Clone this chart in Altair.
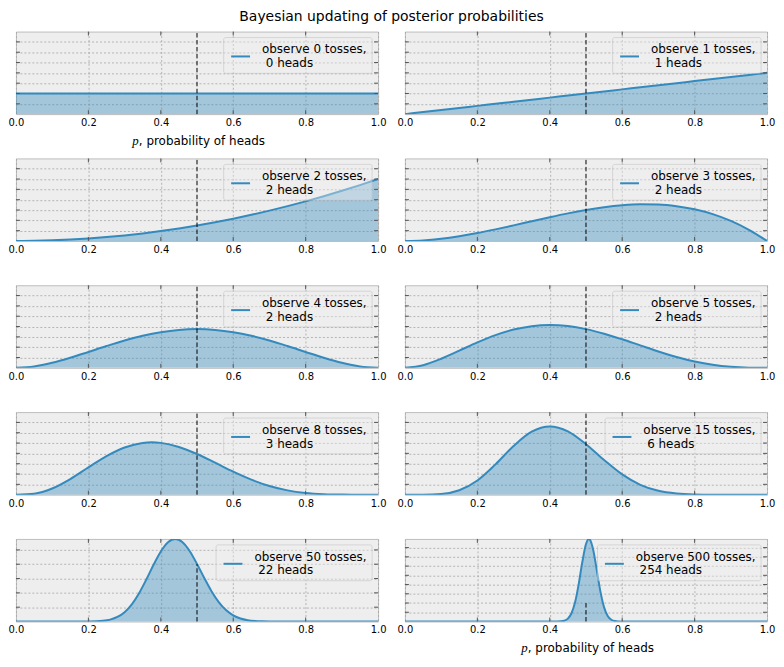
import altair as alt
import pandas as pd

TITLE = "Bayesian updating of posterior probabilities"
N_TOSSES = [0, 1, 2, 3, 4, 5, 8, 15, 50, 500]
N_HEADS = [0, 1, 2, 2, 2, 2, 3, 6, 22, 254]

# posterior density
X_GRID = [0.00, 0.05, 0.10, 0.15, 0.20, 0.25, 0.30, 0.35, 0.40, 0.45, 0.50,
          0.55, 0.60, 0.65, 0.70, 0.75, 0.80, 0.85, 0.90, 0.95, 1.00]
Y_N0 = [1.0, 1.0, 1.0, 1.0, 1.0, 1.0, 1.0, 1.0, 1.0, 1.0, 1.0,
        1.0, 1.0, 1.0, 1.0, 1.0, 1.0, 1.0, 1.0, 1.0, 1.0]
Y_N1 = [0.0, 0.1, 0.2, 0.3, 0.4, 0.5, 0.6, 0.7, 0.8, 0.9, 1.0,
        1.1, 1.2, 1.3, 1.4, 1.5, 1.6, 1.7, 1.8, 1.9, 2.0]
Y_N2 = [0.0, 0.0075, 0.03, 0.0675, 0.12, 0.1875, 0.27, 0.3675, 0.48, 0.6075, 0.75,
        0.9075, 1.08, 1.2675, 1.47, 1.6875, 1.92, 2.1675, 2.43, 2.7075, 3.0]
Y_N3 = [0.0, 0.0285, 0.108, 0.2295, 0.384, 0.5625, 0.756, 0.9555, 1.152, 1.3365, 1.5,
        1.6335, 1.728, 1.7745, 1.764, 1.6875, 1.536, 1.3005, 0.972, 0.5415, 0.0]
Y_N4 = [0.0, 0.0677, 0.243, 0.4877, 0.768, 1.0547, 1.323, 1.5527, 1.728, 1.8377, 1.875,
        1.8377, 1.728, 1.5527, 1.323, 1.0547, 0.768, 0.4877, 0.243, 0.0677, 0.0]
Y_N5 = [0.0, 0.1286, 0.4374, 0.8291, 1.2288, 1.582, 1.8522, 2.0185, 2.0736, 2.0215, 1.875,
        1.6539, 1.3824, 1.0869, 0.7938, 0.5273, 0.3072, 0.1463, 0.0486, 0.0068, 0.0]
X_N8 = [0.00, 0.05, 0.10, 0.15, 0.20, 0.25, 0.30, 0.35, 0.375, 0.40, 0.45, 0.50,
        0.55, 0.60, 0.65, 0.70, 0.75, 0.80, 0.85, 0.90, 0.95, 1.00]
Y_N8 = [0.0, 0.0487, 0.2976, 0.7547, 1.3212, 1.8688, 2.2871, 2.5073, 2.5347, 2.5082, 2.3114,
        1.9688, 1.5473, 1.1148, 0.727, 0.4201, 0.2076, 0.0826, 0.0235, 0.0037, 0.0001, 0.0]
Y_N15 = [0.0, 0.0008, 0.031, 0.2113, 0.6879, 1.468, 2.3558, 3.049, 3.3056, 3.066, 2.4438,
         1.6773, 0.9794, 0.476, 0.1854, 0.0544, 0.0107, 0.0012, 0.0, 0.0, 0.0]
X_N50 = [0.0, 0.10, 0.15, 0.20, 0.22, 0.24, 0.26, 0.28, 0.30, 0.32, 0.34, 0.36, 0.38,
         0.40, 0.42, 0.44, 0.46, 0.48, 0.50, 0.52, 0.54, 0.56, 0.58, 0.60, 0.62,
         0.64, 0.66, 0.68, 0.70, 0.75, 0.80, 0.90, 1.0]
Y_N50 = [0.0, 0.0, 0.0, 0.0037, 0.0147, 0.0482, 0.1329, 0.3151, 0.6533, 1.2002, 1.9746,
         2.9336, 3.9622, 4.8893, 5.5355, 5.767, 5.5384, 4.9103, 4.02, 3.0376, 2.1164,
         1.3568, 0.7982, 0.4292, 0.21, 0.0929, 0.0369, 0.013, 0.0041, 0.0001, 0.0, 0.0, 0.0]
X_N500 = [0.0, 0.40, 0.41, 0.42, 0.43, 0.44, 0.45, 0.46, 0.47, 0.48, 0.49, 0.50, 0.508,
          0.51, 0.52, 0.53, 0.54, 0.55, 0.56, 0.57, 0.58, 0.59, 0.60, 0.61, 0.62, 1.0]
Y_N500 = [0.0, 0.0002, 0.0012, 0.0077, 0.0407, 0.1752, 0.6183, 1.7833, 4.2153, 8.1588,
          12.927, 16.766, 17.874, 17.803, 15.476, 11.015, 6.418, 3.0613, 1.196, 0.3823,
          0.1001, 0.0214, 0.0038, 0.0005, 0.0001, 0.0]

CURVES = [(X_GRID, Y_N0), (X_GRID, Y_N1), (X_GRID, Y_N2), (X_GRID, Y_N3),
          (X_GRID, Y_N4), (X_GRID, Y_N5), (X_N8, Y_N8), (X_GRID, Y_N15),
          (X_N50, Y_N50), (X_N500, Y_N500)]

X_TICKS = [0.0, 0.2, 0.4, 0.6, 0.8, 1.0]
Y_TICKS_DEFAULT = [0.5, 1.0, 1.5, 2.0, 2.5, 3.0, 3.5]
Y_TICKS_N50 = [1, 2, 3, 4, 5]
Y_TICKS_N500 = [2, 4, 6, 8, 10, 12, 14, 16]
Y_TICKS = [Y_TICKS_DEFAULT] * 8 + [Y_TICKS_N50, Y_TICKS_N500]

REF_X = 0.5
REF_TOP = 4.0
XLABEL_MATH = "p"
XLABEL_REST = ", probability of heads"
XLABEL_PANELS = [0, 9]

BLUE = "#348ABD"
GRID = "#a6a6a6"
TICK = "#555555"
W, H = 364, 83


def legend_text_width(n):
    # DejaVu Sans 12px width of "observe N tosses,"
    return 105.3 + (len(str(n)) - 1) * 7.63


def panel(k):
    xs, ys = CURVES[k]
    df = pd.DataFrame({"x": xs, "y": ys})
    ymax = max(max(ys), REF_TOP)
    xsc = alt.Scale(domain=[0, 1], nice=False, zero=False)
    ysc = alt.Scale(domain=[0, ymax], nice=False, zero=True)

    xax = alt.Axis(values=X_TICKS, format=".1f", grid=True, ticks=False, domain=False,
                   labelFlush=False, labelOverlap=False, labelPadding=3.5,
                   labelFontSize=10, labelColor="black", labelFont="DejaVu Sans",
                   title=None, gridColor=GRID, gridDash=[2, 2], gridWidth=0.8)
    yax = alt.Axis(values=Y_TICKS[k], grid=True, labels=False, ticks=False, domain=False,
                   title=None, gridColor=GRID, gridDash=[2, 2], gridWidth=0.8)
    X = alt.X("x:Q", scale=xsc, axis=xax)
    Y = alt.Y("y:Q", scale=ysc, axis=yax)

    area = alt.Chart(df).mark_area(color=BLUE, opacity=0.4, interpolate="monotone",
                                   clip=True).encode(x=X, y=Y)
    line = alt.Chart(df).mark_line(color=BLUE, strokeWidth=2, interpolate="monotone",
                                   clip=True).encode(x=X, y=Y)
    ref = alt.Chart(pd.DataFrame({"x": [REF_X], "y": [0.0], "y2": [REF_TOP]})).mark_rule(
        color="black", strokeWidth=1, strokeDash=[4.5, 2.5]).encode(x=X, y=Y, y2="y2:Q")
    ydf = pd.DataFrame({"y": Y_TICKS[k]})
    ytl = alt.Chart(ydf).mark_rule(color=TICK, strokeWidth=1).encode(
        y=Y, x=alt.value(0), x2=alt.value(4))
    ytr = alt.Chart(ydf).mark_rule(color=TICK, strokeWidth=1).encode(
        y=Y, x=alt.value(W - 4), x2=alt.value(W))
    xdf = pd.DataFrame({"x": X_TICKS[1:-1]})
    xtb = alt.Chart(xdf).mark_rule(color=TICK, strokeWidth=1).encode(
        x=X, y=alt.value(H - 4), y2=alt.value(H))
    xtt = alt.Chart(xdf).mark_rule(color=TICK, strokeWidth=1).encode(
        x=X, y=alt.value(0), y2=alt.value(4))

    # legend
    n, h = N_TOSSES[k], N_HEADS[k]
    L = W - 11.4 - legend_text_width(n)
    one = pd.DataFrame({"l1": [f"observe {n} tosses,"], "l2": [f"{h} heads"]})
    box = alt.Chart(one).mark_rect(fill="#eeeeee", fillOpacity=0.4, stroke="#bcbcbc",
                                   strokeOpacity=0.5, strokeWidth=1, cornerRadius=2).encode(
        x=alt.value(L - 38.5), x2=alt.value(W - 6), y=alt.value(6), y2=alt.value(42))
    handle = alt.Chart(one).mark_rule(color=BLUE, strokeWidth=2).encode(
        x=alt.value(L - 31), x2=alt.value(L - 12), y=alt.value(25))
    t1 = alt.Chart(one).mark_text(align="left", baseline="alphabetic", fontSize=12,
                                  font="DejaVu Sans", color="black").encode(
        text="l1:N", x=alt.value(L), y=alt.value(21.7))
    t2 = alt.Chart(one).mark_text(align="left", baseline="alphabetic", fontSize=12,
                                  font="DejaVu Sans", color="black").encode(
        text="l2:N", x=alt.value(L + 3.8), y=alt.value(35.7))

    layers = [area, line, ref, ytl, ytr, xtb, xtt, box, handle, t1, t2]

    if k in XLABEL_PANELS:
        lab = pd.DataFrame({"m": [XLABEL_MATH], "r": [XLABEL_REST]})
        m = alt.Chart(lab).mark_text(align="left", baseline="alphabetic", fontSize=13,
                                     font="Liberation Serif", fontStyle="italic",
                                     color="black").encode(
            text="m:N", x=alt.value(117), y=alt.value(114))
        r = alt.Chart(lab).mark_text(align="left", baseline="alphabetic", fontSize=12,
                                     font="DejaVu Sans", color="black").encode(
            text="r:N", x=alt.value(123.5), y=alt.value(114))
        layers += [m, r]

    return alt.layer(*layers).properties(width=W, height=H)


panels = [panel(k) for k in range(len(N_TOSSES))]

chart = alt.concat(*panels, columns=2, spacing={"row": 44.5, "column": 27},
                   bounds="flush").properties(
    title=alt.Title(TITLE, fontSize=14, font="DejaVu Sans", fontWeight="normal",
                    anchor="middle", baseline="top", offset=6.5, color="black"),
    padding={"left": -1, "top": 0, "right": 0, "bottom": 0},
).configure(
    font="DejaVu Sans",
    view=alt.ViewConfig(fill="#eeeeee", stroke="#bcbcbc", strokeWidth=1),
)

chart.save("out.html", embed_options={"renderer": "svg", "actions": False})
